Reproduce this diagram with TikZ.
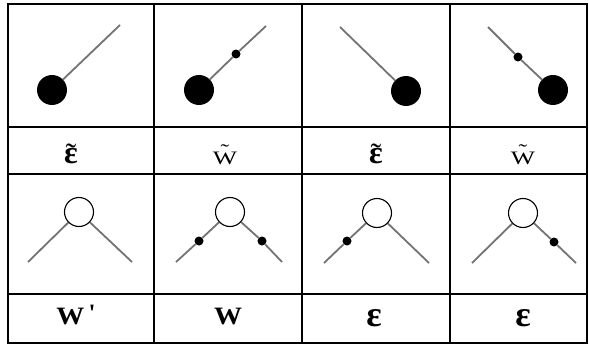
\documentclass[tikz,border=0pt]{standalone}
\usepackage{fontspec}
\usepackage{graphicx}
\setmainfont{Liberation Serif}
\newcommand\tildeacc[2]{\leavevmode\setbox0\hbox{#2}\hbox to\wd0{\hss\raisebox{#1}{\mdseries˜}\hss}\kern-\wd0\box0}
\begin{document}
\begin{tikzpicture}[x=1pt,y=-1pt,
  grid/.style={line width=1.6pt,black},
  bigdot/.style={circle,fill=black,inner sep=0pt,minimum size=30pt},
  ring/.style={circle,draw=black,line width=1.1pt,fill=white,inner sep=0pt,minimum size=29pt},
  smalldot/.style={circle,fill=black,inner sep=0pt,minimum size=9pt},
  stick/.style={draw=black!55,line width=1.8pt},
  lab/.style={anchor=base,inner sep=0pt}]
\useasboundingbox (0,0) rectangle (589,345);
\fill[white] (0,0) rectangle (589,345);
% grid
\draw[grid] (8,4) rectangle (587,343);
\foreach \x in {154,302,450} \draw[grid] (\x,4) -- (\x,343);
\foreach \y in {127,174,294} \draw[grid] (8,\y) -- (587,\y);
% row 1
\node[bigdot] (b1) at (52,90) {};
\coordinate (e1) at (120,25);
\draw[stick] (b1) -- (e1);
\node[bigdot] (b2) at (199,90) {};
\node[smalldot] (s2) at (236,54) {};
\coordinate (e2) at (266,26);
\draw[stick] (b2) -- (s2) -- (e2);
\node[bigdot] (b3) at (406,91) {};
\coordinate (e3) at (340,27);
\draw[stick] (b3) -- (e3);
\node[bigdot] (b4) at (553,90) {};
\node[smalldot] (s4) at (518,57) {};
\coordinate (e4) at (488,27);
\draw[stick] (b4) -- (s4) -- (e4);
% row 2 labels
\node[lab,font=\fontsize{32}{34}\selectfont\bfseries] (l1) at (71,163) {\tildeacc{-2pt}{ε}};
\node[lab,font=\fontsize{19}{21}\selectfont] (l2) at (225,164) {\scalebox{1.35}[1]{\tildeacc{7pt}{W}}};
\node[lab,font=\fontsize{32}{34}\selectfont\bfseries] (l3) at (376,163) {\tildeacc{-2pt}{ε}};
\node[lab,font=\fontsize{19}{21}\selectfont] (l4) at (523,164) {\scalebox{1.35}[1]{\tildeacc{7pt}{W}}};
% row 3
\node[ring] (r1) at (79,212) {};
\coordinate (p1) at (28,262); \coordinate (q1) at (132,262);
\draw[stick] (r1) -- (p1); \draw[stick] (r1) -- (q1);
\node[ring] (r2) at (230,212) {};
\node[smalldot] (u2) at (199,241) {};
\node[smalldot] (v2) at (262,241) {};
\coordinate (p2) at (176,262); \coordinate (q2) at (282,262);
\draw[stick] (r2) -- (u2) -- (p2); \draw[stick] (r2) -- (v2) -- (q2);
\node[ring] (r3) at (377,213) {};
\node[smalldot] (u3) at (347,241) {};
\coordinate (p3) at (324,263); \coordinate (q3) at (429,263);
\draw[stick] (r3) -- (u3) -- (p3); \draw[stick] (r3) -- (q3);
\node[ring] (r4) at (523,213) {};
\node[smalldot] (v4) at (554,242) {};
\coordinate (p4) at (472,263); \coordinate (q4) at (576,263);
\draw[stick] (r4) -- (p4); \draw[stick] (r4) -- (v4) -- (q4);
% row 4 labels
\node[lab,font=\fontsize{25}{27}\selectfont\bfseries] (m1) at (76,324) {\scalebox{1.12}[1]{W}\,\raisebox{3pt}{\textquotesingle}};
\node[lab,font=\fontsize{25}{27}\selectfont\bfseries] (m2) at (228,324) {\scalebox{1.12}[1]{W}};
\node[lab,font=\fontsize{36}{38}\selectfont\bfseries] (m3) at (374,326) {ε};
\node[lab,font=\fontsize{36}{38}\selectfont\bfseries] (m4) at (523,326) {ε};
\end{tikzpicture}
\end{document}
